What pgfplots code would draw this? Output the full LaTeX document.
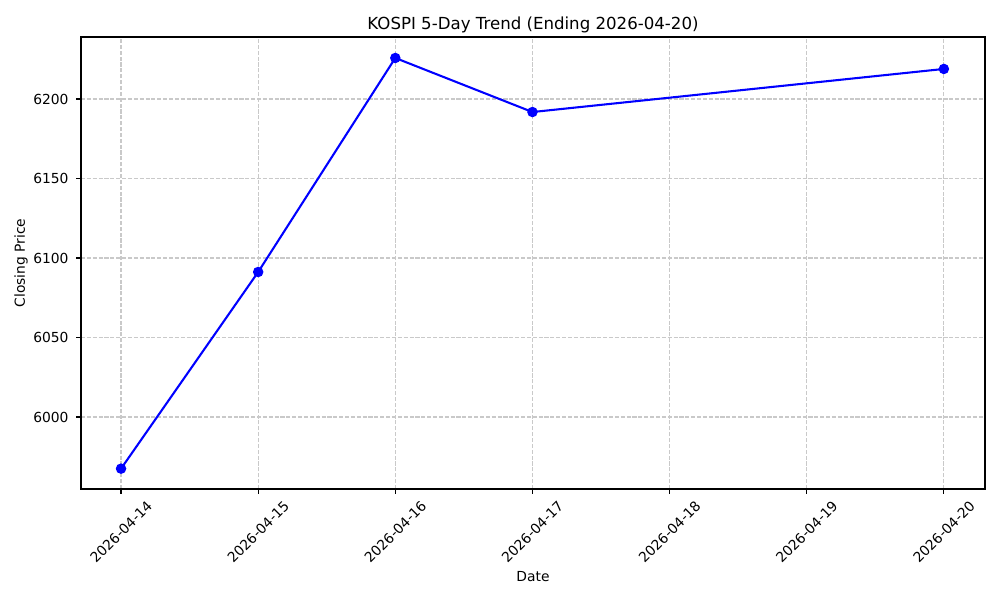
\documentclass[border=0pt]{standalone}
\usepackage{fontspec}
\setmainfont{DejaVu Sans}
\usepackage{pgfplots}
\pgfplotsset{compat=1.18}
\begin{document}
\begin{tikzpicture}
\useasboundingbox (-0.81in,-1.11in) rectangle (9.19in,4.89in);
\begin{axis}[
  at={(0,0)}, anchor=south west,
  scale only axis,
  width=9.04in, height=4.52in,
  xmin=13.708, xmax=20.3,
  ymin=5954.7, ymax=6239,
  xtick={14,15,16,17,18,19,20},
  xticklabels={2026-04-14,2026-04-15,2026-04-16,2026-04-17,2026-04-18,2026-04-19,2026-04-20},
  ytick={6000,6050,6100,6150,6200},
  /pgf/number format/assume math mode=true,
  /pgf/number format/1000 sep={},
  tick pos=left,
  tick align=outside,
  major tick length=3.5pt,
  tick style={black, line width=0.8pt},
  axis line style={line width=0.8pt},
  xticklabel style={font=\fontsize{10}{12}\selectfont, anchor=center, yshift=-0.38in, rotate=45},
  yticklabel style={font=\fontsize{10}{12}\selectfont, xshift=-2pt},
  grid=major,
  grid style={gray!42, dash pattern=on 2.96pt off 1.28pt, line width=0.8pt},
  title={KOSPI 5-Day Trend (Ending 2026-04-20)},
  title style={font=\fontsize{12}{14}\selectfont, at={(axis description cs:0.5,1.009)}, anchor=center},
  xlabel={Date},
  xlabel style={font=\fontsize{10}{12}\selectfont, at={(axis description cs:0.5,-0.1947)}, anchor=center},
  ylabel={Closing Price},
  ylabel style={font=\fontsize{10}{12}\selectfont, at={(axis description cs:-0.0664,0.5)}, anchor=center},
]
\addplot[color=blue, line width=1.5pt, mark=*, mark size=3pt, mark options={fill=blue}] coordinates {
  (14, 5967.5)
  (15, 6091.2)
  (16, 6225.8)
  (17, 6191.8)
  (20, 6218.9)
};
\end{axis}
\end{tikzpicture}
\end{document}
